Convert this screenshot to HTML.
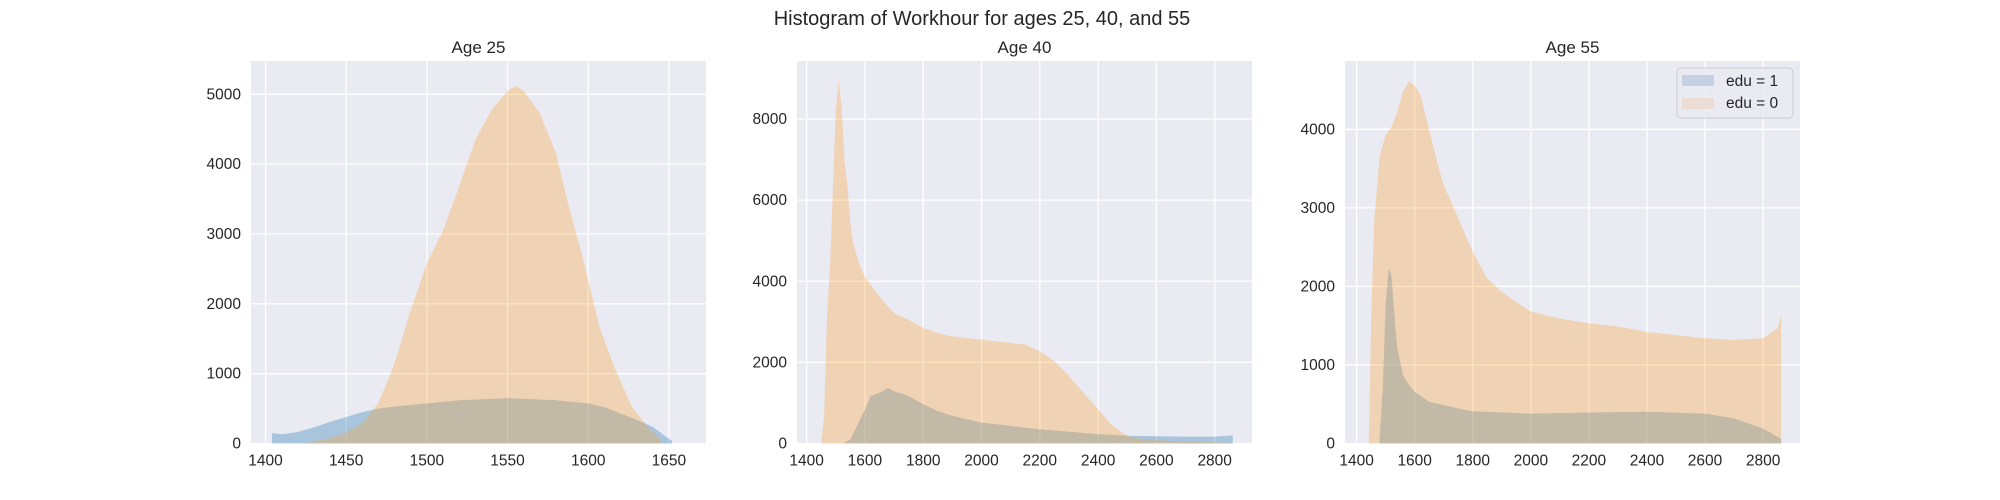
<!DOCTYPE html>
<html><head><meta charset="utf-8">
<style>
body{margin:0;background:#fff;}
svg{display:block;font-family:"Liberation Sans","DejaVu Sans",sans-serif;}
</style></head>
<body>
<svg id="chart" width="2000" height="500" viewBox="0 0 2000 500">
<text x="982" y="25" font-size="20" text-anchor="middle" fill="#262626">Histogram of Workhour for ages 25, 40, and 55</text>
</svg>
<script>
// Age 25
const a25OrangeX = [1425,1430,1440,1450,1460,1470,1480,1490,1500,1510,1520,1530,1540,1550,1555,1560,1570,1580,1587,1597,1607,1617,1627,1637,1645];
const a25OrangeY = [0,30,75,160,290,580,1150,1910,2580,3050,3680,4345,4775,5050,5120,5050,4730,4160,3485,2625,1670,1050,525,240,50];
const a25BlueX = [1404,1410,1420,1430,1440,1450,1460,1470,1480,1500,1520,1550,1580,1600,1610,1620,1630,1640,1648,1652];
const a25BlueY = [150,130,165,230,310,380,450,500,530,575,620,650,620,575,520,430,340,240,100,40];
// Age 40
const a40OrangeX = [1450,1460,1470,1480,1490,1500,1510,1520,1530,1540,1550,1560,1580,1600,1650,1700,1750,1800,1850,1900,1950,2000,2050,2100,2150,2200,2250,2300,2350,2400,2450,2500,2550,2600,2700,2800,2860];
const a40OrangeY = [0,680,3130,4300,6240,8200,8940,8290,6980,6340,5420,4930,4440,4110,3620,3210,3050,2850,2720,2640,2600,2560,2520,2480,2440,2270,2030,1660,1250,840,430,190,110,80,50,30,20];
const a40BlueX = [1525,1550,1600,1620,1650,1680,1700,1750,1800,1850,1900,1950,2000,2100,2200,2300,2400,2500,2600,2700,2800,2862];
const a40BlueY = [0,100,840,1170,1250,1370,1290,1170,965,800,680,600,515,430,350,290,230,190,180,170,170,200];
// Age 55
const a55OrangeX = [1442,1450,1460,1470,1480,1490,1500,1520,1540,1560,1580,1600,1620,1640,1660,1680,1700,1750,1800,1850,1900,1950,2000,2100,2200,2300,2400,2500,2600,2700,2800,2850,2862];
const a55OrangeY = [0,1550,2820,3250,3670,3800,3930,4030,4220,4480,4610,4560,4440,4140,3840,3545,3290,2870,2440,2100,1930,1800,1680,1590,1530,1490,1420,1380,1340,1320,1340,1465,1630];
const a55BlueX = [1478,1490,1500,1510,1520,1530,1540,1560,1580,1600,1650,1700,1750,1800,2000,2200,2400,2600,2700,2800,2862];
const a55BlueY = [0,700,1760,2230,2140,1630,1210,870,745,660,530,490,445,410,380,395,405,380,320,190,60];

const xTicks25 = [1400,1450,1500,1550,1600,1650];
const yTicks25 = [0,1000,2000,3000,4000,5000];
const xTicksWide = [1400,1600,1800,2000,2200,2400,2600,2800];
const yTicks40 = [0,2000,4000,6000,8000];
const yTicks55 = [0,1000,2000,3000,4000];

const NS = "http://www.w3.org/2000/svg";
const svg = document.getElementById('chart');
const TOP = 61, BOTTOM = 443.5, W = 455;
const BLUE = "rgba(31,119,180,0.32)", ORANGE = "rgba(255,160,40,0.30)";

function mk(tag, attrs, parent){
  const e = document.createElementNS(NS, tag);
  for (const k in attrs) e.setAttribute(k, attrs[k]);
  (parent||svg).appendChild(e);
  return e;
}

function drawArea(g, xs, ys, sx, sy, fill, name){
  let d = 'M' + sx(xs[0]) + ',' + sy(0);
  for (let i=0;i<xs.length;i++) d += ' L' + sx(xs[i]) + ',' + sy(ys[i]);
  d += ' L' + sx(xs[xs.length-1]) + ',' + sy(0) + ' Z';
  const p = mk('path', {d:d, fill:fill}, g);
  
  
}

function panel(left, xmin, xmax, ymax, xt, yt, title, blueX, blueY, orX, orY, key){
  const sx = v => left + (v-xmin)/(xmax-xmin)*W;
  const sy = v => BOTTOM - v/ymax*(BOTTOM-TOP);
  const g = mk('g', {});
  
  
  const bg = mk('rect', {x:left, y:TOP, width:W, height:BOTTOM-TOP, fill:'#eaeaf2'}, g);
  
  
  xt.forEach(t=>{
    const gl = mk('line', {x1:sx(t), x2:sx(t), y1:TOP, y2:BOTTOM, stroke:'#fff', 'stroke-width':1.3}, g);
    
    
    const tl = mk('text', {x:sx(t), y:BOTTOM+22, 'font-size':15.5, 'text-anchor':'middle', fill:'#262626'}, g);
    tl.textContent = t;
    
    
  });
  yt.forEach(t=>{
    const gl = mk('line', {x1:left, x2:left+W, y1:sy(t), y2:sy(t), stroke:'#fff', 'stroke-width':1.3}, g);
    
    
    const tl = mk('text', {x:left-10, y:sy(t)+5, 'font-size':15.5, 'text-anchor':'end', fill:'#262626'}, g);
    tl.textContent = t;
    
    
  });
  drawArea(g, blueX, blueY, sx, sy, BLUE, 'hist-edu-1');
  drawArea(g, orX, orY, sx, sy, ORANGE, 'hist-edu-0');
  const tt = mk('text', {x:left+W/2, y:TOP-8, 'font-size':17, 'text-anchor':'middle', fill:'#262626'}, g);
  tt.textContent = title;
  
  
}

panel(251, 1391, 1673, 5477, xTicks25, yTicks25, 'Age 25', a25BlueX, a25BlueY, a25OrangeX, a25OrangeY, 'age-25');
panel(797, 1367, 2928, 9430, xTicksWide, yTicks40, 'Age 40', a40BlueX, a40BlueY, a40OrangeX, a40OrangeY, 'age-40');
panel(1345, 1360, 2927, 4870, xTicksWide, yTicks55, 'Age 55', a55BlueX, a55BlueY, a55OrangeX, a55OrangeY, 'age-55');

// legend
const lg = mk('g', {});


mk('rect', {x:1677, y:68, width:116, height:50, rx:4, fill:'rgba(234,234,242,0.85)', stroke:'#cccccc'}, lg);
const e1 = mk('rect', {x:1682, y:75, width:32, height:11, fill:'#c5d0e2'}, lg);


const t1 = mk('text', {x:1726, y:86, 'font-size':15.5, fill:'#262626'}, lg);
t1.textContent = 'edu = 1';


const e2 = mk('rect', {x:1682, y:98, width:32, height:11, fill:'#eddbd6'}, lg);


const t2 = mk('text', {x:1726, y:108, 'font-size':15.5, fill:'#262626'}, lg);
t2.textContent = 'edu = 0';


</script>
</body></html>
